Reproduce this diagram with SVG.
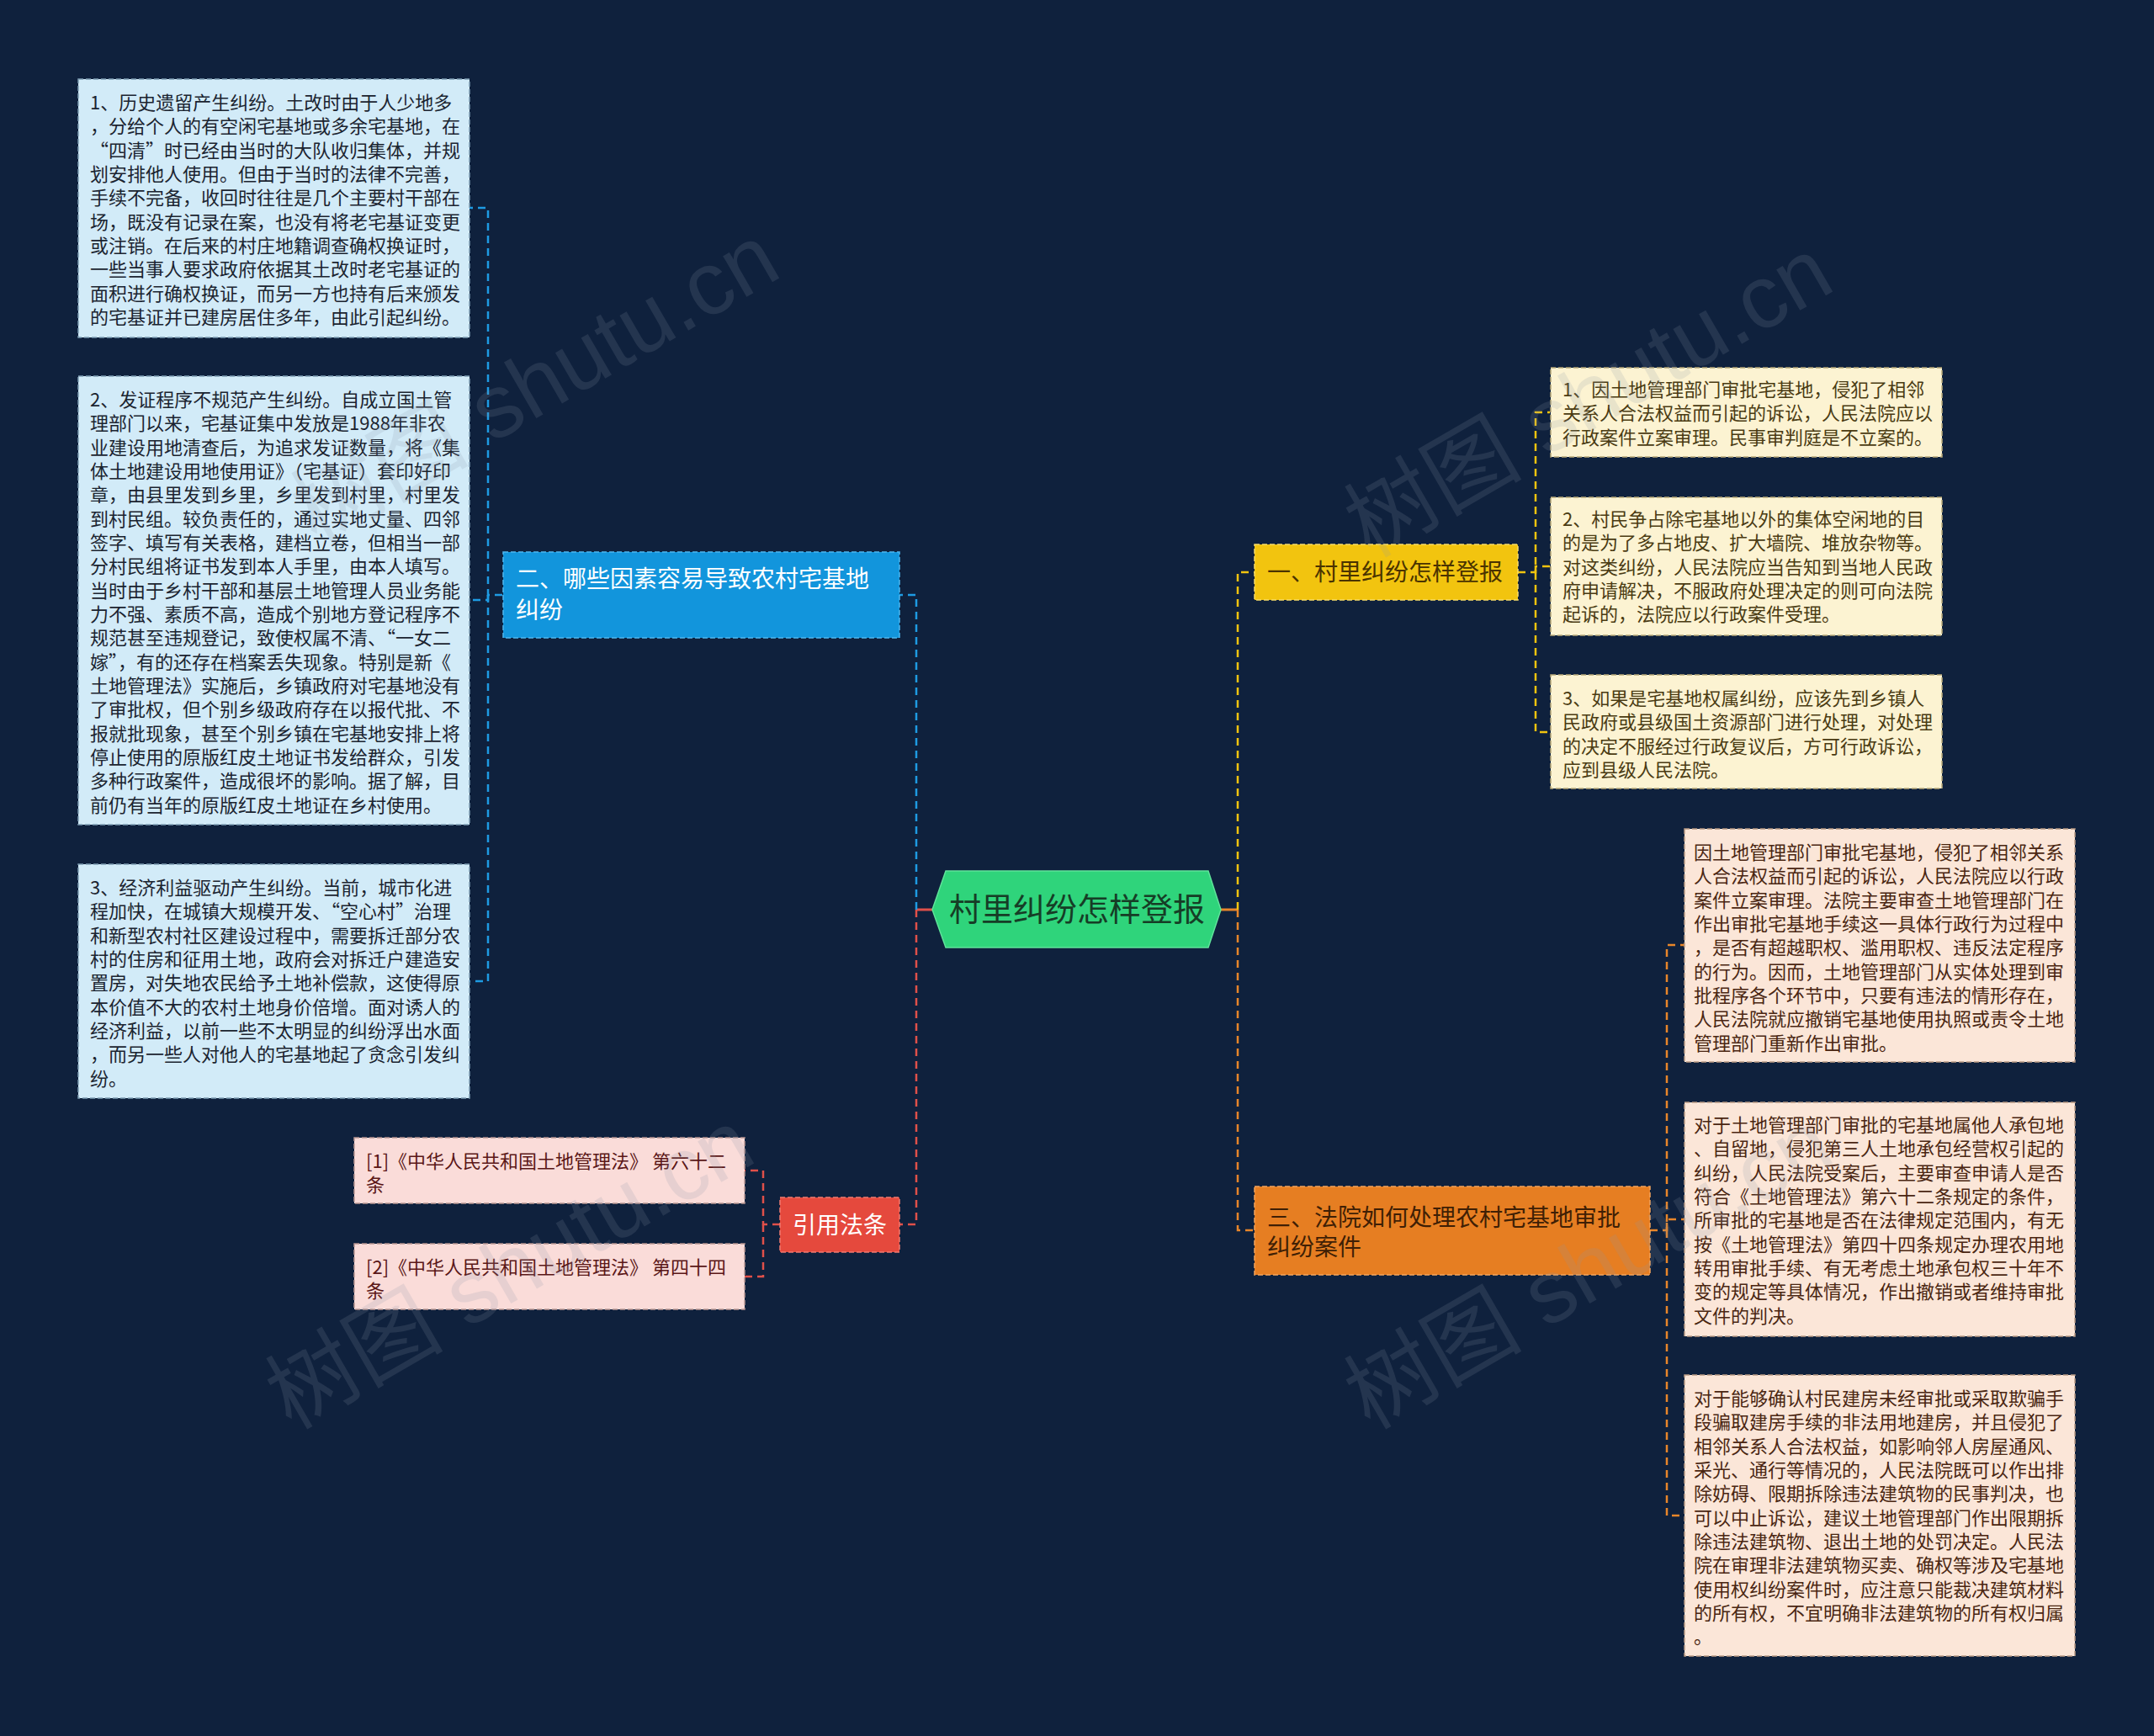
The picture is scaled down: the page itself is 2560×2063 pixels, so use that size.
<svg xmlns="http://www.w3.org/2000/svg" width="2560" height="2063" viewBox="0 0 2560 2063">
<style>
text{font-family:"Noto Sans CJK SC","Microsoft YaHei",sans-serif}
.c{fill:none;stroke-width:2.5;stroke-dasharray:9 6}
.cb{stroke:#1e9be3}.cr{stroke:#e0504a}.cy{stroke:#f1c40f}.co{stroke:#e8862a}
.bx{stroke-width:1.5;stroke-dasharray:6 3}
.t22{font-size:22px}
.t28{font-size:28px}
.lb{fill:#d2ebf8;stroke:#7d9db2}.lbt{fill:#1b2430}
.yb{fill:#fcf3d2;stroke:#b8a978}.ybt{fill:#4a3b12}
.ob{fill:#fbe6d8;stroke:#b99a84}.obt{fill:#4a2612}
.rb{fill:#fadcd9;stroke:#b99692}.rbt{fill:#5a1717}
.wm{font-family:"Liberation Sans","Noto Sans CJK SC",sans-serif;font-size:106px;fill:#8a96a8;opacity:0.17}
</style>
<rect width="2560" height="2063" fill="#0f213d"/>
<g id="connectors">
<path d="M1108,1081 H1089" stroke="#e0504a" stroke-width="3" fill="none"/>
<path d="M1451,1081 H1471" stroke="#e8862a" stroke-width="3" fill="none"/>
<path class="c cb" d="M1089,1081 V707 H1069"/>
<path class="c cr" d="M1089,1081 V1455 H1069"/>
<path class="c cy" d="M1471,1081 V680 H1491"/>
<path class="c co" d="M1471,1081 V1462 H1491"/>
<path class="c cb" d="M597,707 H580 V247 H558"/>
<path class="c cb" d="M580,707 V713 H558"/>
<path class="c cb" d="M580,707 V1166 H558"/>
<path class="c cr" d="M927,1455 H907 V1391 H885"/>
<path class="c cr" d="M907,1455 V1517 H885"/>
<path class="c cy" d="M1804,680 H1825 V490 H1842"/>
<path class="c cy" d="M1825,680 V673 H1842"/>
<path class="c cy" d="M1825,680 V870 H1842"/>
<path class="c co" d="M1961,1462 H1981 V1123 H2002"/>
<path class="c co" d="M1981,1462 V1449 H2002"/>
<path class="c co" d="M1981,1462 V1801 H2002"/>
</g>
<g id="root">
<polygon points="1108,1081 1124,1035 1436,1035 1451,1081 1436,1126 1124,1126" fill="#2fd47b" stroke="#5fe39a" stroke-width="1.5"/>
<text x="1280" y="1094" text-anchor="middle" font-size="38" fill="#163d26">村里纠纷怎样登报</text>
</g>
<g id="n2">
<rect x="598" y="656" width="471" height="102" fill="#1295dc" stroke="#4fb6ee" class="bx"/>
<text class="t28" fill="#ffffff"><tspan x="613" y="698">二、哪些因素容易导致农村宅基地</tspan><tspan x="613" y="735">纠纷</tspan></text>
</g>
<g id="n2a">
<rect x="93" y="94" width="465" height="307" class="lb bx"/>
<text class="t22 lbt"><tspan x="107" y="130">1、历史遗留产生纠纷。土改时由于人少地多</tspan><tspan x="107" dy="28.33">，分给个人的有空闲宅基地或多余宅基地，在</tspan><tspan x="107" dy="28.33">“四清”时已经由当时的大队收归集体，并规</tspan><tspan x="107" dy="28.33">划安排他人使用。但由于当时的法律不完善，</tspan><tspan x="107" dy="28.33">手续不完备，收回时往往是几个主要村干部在</tspan><tspan x="107" dy="28.33">场，既没有记录在案，也没有将老宅基证变更</tspan><tspan x="107" dy="28.33">或注销。在后来的村庄地籍调查确权换证时，</tspan><tspan x="107" dy="28.33">一些当事人要求政府依据其土改时老宅基证的</tspan><tspan x="107" dy="28.33">面积进行确权换证，而另一方也持有后来颁发</tspan><tspan x="107" dy="28.33">的宅基证并已建房居住多年，由此引起纠纷。</tspan></text>
</g>
<g id="n2b">
<rect x="93" y="447" width="465" height="533" class="lb bx"/>
<text class="t22 lbt"><tspan x="107" y="483">2、发证程序不规范产生纠纷。自成立国土管</tspan><tspan x="107" dy="28.33">理部门以来，宅基证集中发放是1988年非农</tspan><tspan x="107" dy="28.33">业建设用地清查后，为追求发证数量，将《集</tspan><tspan x="107" dy="28.33">体土地建设用地使用证》（宅基证）套印好印</tspan><tspan x="107" dy="28.33">章，由县里发到乡里，乡里发到村里，村里发</tspan><tspan x="107" dy="28.33">到村民组。较负责任的，通过实地丈量、四邻</tspan><tspan x="107" dy="28.33">签字、填写有关表格，建档立卷，但相当一部</tspan><tspan x="107" dy="28.33">分村民组将证书发到本人手里，由本人填写。</tspan><tspan x="107" dy="28.33">当时由于乡村干部和基层土地管理人员业务能</tspan><tspan x="107" dy="28.33">力不强、素质不高，造成个别地方登记程序不</tspan><tspan x="107" dy="28.33">规范甚至违规登记，致使权属不清、“一女二</tspan><tspan x="107" dy="28.33">嫁”，有的还存在档案丢失现象。特别是新《</tspan><tspan x="107" dy="28.33">土地管理法》实施后，乡镇政府对宅基地没有</tspan><tspan x="107" dy="28.33">了审批权，但个别乡级政府存在以报代批、不</tspan><tspan x="107" dy="28.33">报就批现象，甚至个别乡镇在宅基地安排上将</tspan><tspan x="107" dy="28.33">停止使用的原版红皮土地证书发给群众，引发</tspan><tspan x="107" dy="28.33">多种行政案件，造成很坏的影响。据了解，目</tspan><tspan x="107" dy="28.33">前仍有当年的原版红皮土地证在乡村使用。</tspan></text>
</g>
<g id="n2c">
<rect x="93" y="1027" width="465" height="278" class="lb bx"/>
<text class="t22 lbt"><tspan x="107" y="1063">3、经济利益驱动产生纠纷。当前，城市化进</tspan><tspan x="107" dy="28.33">程加快，在城镇大规模开发、“空心村”治理</tspan><tspan x="107" dy="28.33">和新型农村社区建设过程中，需要拆迁部分农</tspan><tspan x="107" dy="28.33">村的住房和征用土地，政府会对拆迁户建造安</tspan><tspan x="107" dy="28.33">置房，对失地农民给予土地补偿款，这使得原</tspan><tspan x="107" dy="28.33">本价值不大的农村土地身价倍增。面对诱人的</tspan><tspan x="107" dy="28.33">经济利益，以前一些不太明显的纠纷浮出水面</tspan><tspan x="107" dy="28.33">，而另一些人对他人的宅基地起了贪念引发纠</tspan><tspan x="107" dy="28.33">纷。</tspan></text>
</g>
<g id="n4">
<rect x="927" y="1423" width="142" height="65" fill="#e5493d" stroke="#f07a70" class="bx"/>
<text x="998" y="1466" text-anchor="middle" class="t28" fill="#ffffff">引用法条</text>
</g>
<g id="n4a">
<rect x="421" y="1352" width="464" height="78" class="rb bx"/>
<text class="t22 rbt"><tspan x="435" y="1388">[1]《中华人民共和国土地管理法》 第六十二</tspan><tspan x="435" dy="28.33">条</tspan></text>
</g>
<g id="n4b">
<rect x="421" y="1478" width="464" height="78" class="rb bx"/>
<text class="t22 rbt"><tspan x="435" y="1514">[2]《中华人民共和国土地管理法》 第四十四</tspan><tspan x="435" dy="28.33">条</tspan></text>
</g>
<g id="n1">
<rect x="1491" y="647" width="313" height="66" fill="#f2c40f" stroke="#f8dc6a" class="bx"/>
<text x="1506" y="690" class="t28" fill="#4a3300">一、村里纠纷怎样登报</text>
</g>
<g id="n1a">
<rect x="1843" y="437" width="465" height="106" class="yb bx"/>
<text class="t22 ybt"><tspan x="1857" y="471">1、因土地管理部门审批宅基地，侵犯了相邻</tspan><tspan x="1857" dy="28.33">关系人合法权益而引起的诉讼，人民法院应以</tspan><tspan x="1857" dy="28.33">行政案件立案审理。民事审判庭是不立案的。</tspan></text>
</g>
<g id="n1b">
<rect x="1843" y="591" width="465" height="164" class="yb bx"/>
<text class="t22 ybt"><tspan x="1857" y="625">2、村民争占除宅基地以外的集体空闲地的目</tspan><tspan x="1857" dy="28.33">的是为了多占地皮、扩大墙院、堆放杂物等。</tspan><tspan x="1857" dy="28.33">对这类纠纷，人民法院应当告知到当地人民政</tspan><tspan x="1857" dy="28.33">府申请解决，不服政府处理决定的则可向法院</tspan><tspan x="1857" dy="28.33">起诉的，法院应以行政案件受理。</tspan></text>
</g>
<g id="n1c">
<rect x="1843" y="802" width="465" height="135" class="yb bx"/>
<text class="t22 ybt"><tspan x="1857" y="838">3、如果是宅基地权属纠纷，应该先到乡镇人</tspan><tspan x="1857" dy="28.33">民政府或县级国土资源部门进行处理，对处理</tspan><tspan x="1857" dy="28.33">的决定不服经过行政复议后，方可行政诉讼，</tspan><tspan x="1857" dy="28.33">应到县级人民法院。</tspan></text>
</g>
<g id="n3">
<rect x="1491" y="1410" width="470" height="105" fill="#e67e22" stroke="#f3a45c" class="bx"/>
<text class="t28" fill="#3f1f05"><tspan x="1506" y="1457">三、法院如何处理农村宅基地审批</tspan><tspan x="1506" y="1492">纠纷案件</tspan></text>
</g>
<g id="n3a">
<rect x="2002" y="985" width="464" height="277" class="ob bx"/>
<text class="t22 obt"><tspan x="2013" y="1021">因土地管理部门审批宅基地，侵犯了相邻关系</tspan><tspan x="2013" dy="28.33">人合法权益而引起的诉讼，人民法院应以行政</tspan><tspan x="2013" dy="28.33">案件立案审理。法院主要审查土地管理部门在</tspan><tspan x="2013" dy="28.33">作出审批宅基地手续这一具体行政行为过程中</tspan><tspan x="2013" dy="28.33">，是否有超越职权、滥用职权、违反法定程序</tspan><tspan x="2013" dy="28.33">的行为。因而，土地管理部门从实体处理到审</tspan><tspan x="2013" dy="28.33">批程序各个环节中，只要有违法的情形存在，</tspan><tspan x="2013" dy="28.33">人民法院就应撤销宅基地使用执照或责令土地</tspan><tspan x="2013" dy="28.33">管理部门重新作出审批。</tspan></text>
</g>
<g id="n3b">
<rect x="2002" y="1310" width="464" height="278" class="ob bx"/>
<text class="t22 obt"><tspan x="2013" y="1345">对于土地管理部门审批的宅基地属他人承包地</tspan><tspan x="2013" dy="28.33">、自留地，侵犯第三人土地承包经营权引起的</tspan><tspan x="2013" dy="28.33">纠纷，人民法院受案后，主要审查申请人是否</tspan><tspan x="2013" dy="28.33">符合《土地管理法》第六十二条规定的条件，</tspan><tspan x="2013" dy="28.33">所审批的宅基地是否在法律规定范围内，有无</tspan><tspan x="2013" dy="28.33">按《土地管理法》第四十四条规定办理农用地</tspan><tspan x="2013" dy="28.33">转用审批手续、有无考虑土地承包权三十年不</tspan><tspan x="2013" dy="28.33">变的规定等具体情况，作出撤销或者维持审批</tspan><tspan x="2013" dy="28.33">文件的判决。</tspan></text>
</g>
<g id="n3c">
<rect x="2002" y="1634" width="464" height="334" class="ob bx"/>
<text class="t22 obt"><tspan x="2013" y="1670">对于能够确认村民建房未经审批或采取欺骗手</tspan><tspan x="2013" dy="28.33">段骗取建房手续的非法用地建房，并且侵犯了</tspan><tspan x="2013" dy="28.33">相邻关系人合法权益，如影响邻人房屋通风、</tspan><tspan x="2013" dy="28.33">采光、通行等情况的，人民法院既可以作出排</tspan><tspan x="2013" dy="28.33">除妨碍、限期拆除违法建筑物的民事判决，也</tspan><tspan x="2013" dy="28.33">可以中止诉讼，建议土地管理部门作出限期拆</tspan><tspan x="2013" dy="28.33">除违法建筑物、退出土地的处罚决定。人民法</tspan><tspan x="2013" dy="28.33">院在审理非法建筑物买卖、确权等涉及宅基地</tspan><tspan x="2013" dy="28.33">使用权纠纷案件时，应注意只能裁决建筑材料</tspan><tspan x="2013" dy="28.33">的所有权，不宜明确非法建筑物的所有权归属</tspan><tspan x="2013" dy="28.33">。</tspan></text>
</g>
<g id="watermarks">
<text class="wm" transform="translate(376,648) rotate(-30)">树图 shutu.cn</text>
<text class="wm" transform="translate(1628,664) rotate(-30)">树图 shutu.cn</text>
<text class="wm" transform="translate(346,1700) rotate(-30)">树图 shutu.cn</text>
<text class="wm" transform="translate(1628,1700) rotate(-30)">树图 shutu.cn</text>
</g>
</svg>
